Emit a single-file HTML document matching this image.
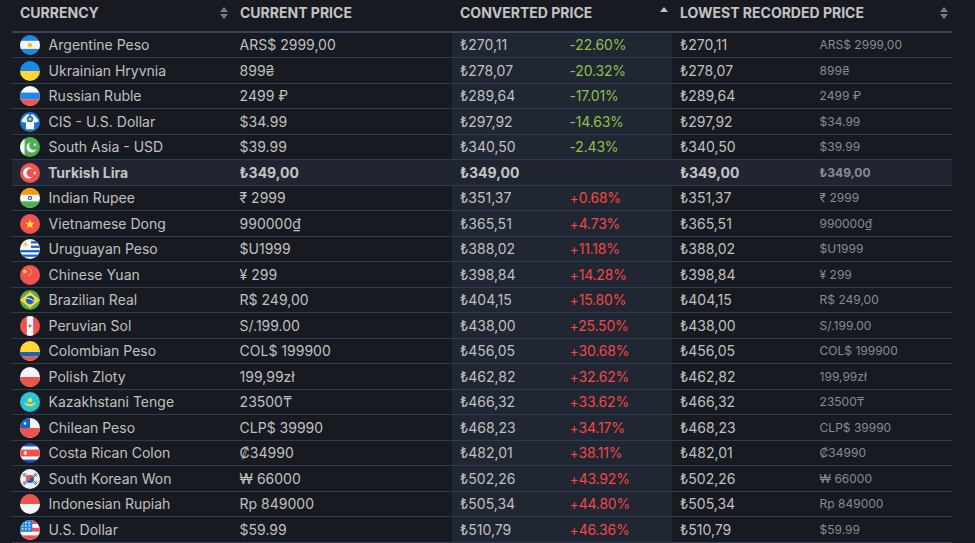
<!DOCTYPE html><html><head><meta charset="utf-8"><title>Steam Prices</title><style>
html,body{margin:0;padding:0}
body{width:975px;height:543px;overflow:hidden;position:relative;background:#171a21;font-family:Inter,"Liberation Sans",sans-serif;color:#c0c0c0;}
.a{position:absolute}
.t{position:absolute;white-space:pre;line-height:20px;font-size:14px}
.h{font-weight:700;color:#c3c3c3}
.s{font-size:12px;color:#878c94}
.g{color:#8bc34a}
.r{color:#f44747}
.b{font-weight:700;color:#c4c4c4}
.bd{position:absolute;left:12px;width:940px;height:1px;background:#2f3c51}
svg.f{position:absolute;width:20px;height:20px}

</style></head><body>
<div class="t h" style="left:20px;top:3px">CURRENCY</div>
<div class="t h" style="left:240px;top:3px">CURRENT PRICE</div>
<div class="t h" style="left:460px;top:3px">CONVERTED PRICE</div>
<div class="t h" style="left:680px;top:3px">LOWEST RECORDED PRICE</div>
<svg class="a" style="left:220px;top:7px" width="8" height="12" viewBox="0 0 8 12"><path d="M4 0 L8 5 L0 5 Z" fill="#7d7d7d"/><path d="M0 7 L8 7 L4 12 Z" fill="#7d7d7d"/></svg>
<svg class="a" style="left:940px;top:7px" width="8" height="12" viewBox="0 0 8 12"><path d="M4 0 L8 5 L0 5 Z" fill="#7d7d7d"/><path d="M0 7 L8 7 L4 12 Z" fill="#7d7d7d"/></svg>
<svg class="a" style="left:660px;top:7px" width="8" height="6" viewBox="0 0 8 6"><path d="M4 0 L8 5 L0 5 Z" fill="#c0c0c0"/></svg>
<div class="a" style="left:12px;top:31px;width:940px;height:2px;background:#35455d"></div>
<div class="a" style="left:452px;top:33px;width:220px;height:510px;background:#202632"></div>
<div class="bd" style="top:57px"></div>
<svg class="f" style="left:20px;top:35px" viewBox="0 0 20 20"><defs><clipPath id="c0"><circle cx="10" cy="10" r="10"/></clipPath></defs><g clip-path="url(#c0)"><rect width="20" height="20" fill="#1e88e5"/><rect y="5.8" width="20" height="8.1" fill="#f5f6fa"/><polygon points="10.00,6.90 11.28,8.24 12.95,9.04 12.06,10.67 11.82,12.51 10.00,12.17 8.18,12.51 7.94,10.67 7.05,9.04 8.72,8.24" fill="#fde3a0"/><circle cx="10" cy="10" r="2.2" fill="#fbc02d"/></g></svg>
<div class="t" style="left:48.6px;top:35px">Argentine Peso</div>
<div class="t" style="left:239.6px;top:35px">ARS$ 2999,00</div>
<div class="t" style="left:460px;top:35px">₺270,11</div>
<div class="t g" style="left:569.6px;top:35px;letter-spacing:-0.2px">-22.60%</div>
<div class="t" style="left:680px;top:35px">₺270,11</div>
<div class="t s" style="left:819.6px;top:35px;">ARS$ 2999,00</div>
<div class="bd" style="top:83px"></div>
<svg class="f" style="left:20px;top:61px" viewBox="0 0 20 20"><defs><clipPath id="c1"><circle cx="10" cy="10" r="10"/></clipPath></defs><g clip-path="url(#c1)"><rect width="20" height="10" fill="#1e88e5"/><rect y="10" width="20" height="10" fill="#fdd835"/></g></svg>
<div class="t" style="left:48.6px;top:61px">Ukrainian Hryvnia</div>
<div class="t" style="left:239.6px;top:61px">899₴</div>
<div class="t" style="left:460px;top:61px">₺278,07</div>
<div class="t g" style="left:569.6px;top:61px;letter-spacing:-0.2px">-20.32%</div>
<div class="t" style="left:680px;top:61px">₺278,07</div>
<div class="t s" style="left:819.6px;top:61px;">899₴</div>
<div class="bd" style="top:108px"></div>
<svg class="f" style="left:20px;top:86px" viewBox="0 0 20 20"><defs><clipPath id="c2"><circle cx="10" cy="10" r="10"/></clipPath></defs><g clip-path="url(#c2)"><rect width="20" height="20" fill="#f5f6fa"/><rect y="6.6" width="20" height="6.8" fill="#1e88e5"/><rect y="13.4" width="20" height="6.6" fill="#ef5350"/></g></svg>
<div class="t" style="left:48.6px;top:86px">Russian Ruble</div>
<div class="t" style="left:239.6px;top:86px">2499 ₽</div>
<div class="t" style="left:460px;top:86px">₺289,64</div>
<div class="t g" style="left:569.6px;top:86px;letter-spacing:-0.2px">-17.01%</div>
<div class="t" style="left:680px;top:86px">₺289,64</div>
<div class="t s" style="left:819.6px;top:86px;">2499 ₽</div>
<div class="bd" style="top:134px"></div>
<svg class="f" style="left:20px;top:112px" viewBox="0 0 20 20"><defs><clipPath id="c3"><circle cx="10" cy="10" r="10"/></clipPath></defs><g clip-path="url(#c3)"><rect width="20" height="20" fill="#1976d2"/><path d="M1.6 9.8 L1.8 7.4 L3.1 6.7 L3.5 5.3 L4.8 4.7 L5.3 3.4 L6.6 2.9 L7.4 2.2 L9 2.4 L11 2.4 L12.6 2.2 L13.4 2.9 L14.7 3.4 L15.2 4.7 L16.5 5.3 L16.9 6.7 L18.2 7.4 L18.4 9.8 L14 10.8 L14 17.3 L6 17.3 L6 10.8 Z" fill="#f5f6fa"/><rect x="9.2" y="0" width="1.6" height="6" fill="#1976d2"/><circle cx="10" cy="7" r="3.2" fill="#1976d2"/><circle cx="10" cy="7" r="1.6" fill="#fdd000"/></g></svg>
<div class="t" style="left:48.6px;top:112px">CIS - U.S. Dollar</div>
<div class="t" style="left:239.6px;top:112px">$34.99</div>
<div class="t" style="left:460px;top:112px">₺297,92</div>
<div class="t g" style="left:569.6px;top:112px;letter-spacing:-0.2px">-14.63%</div>
<div class="t" style="left:680px;top:112px">₺297,92</div>
<div class="t s" style="left:819.6px;top:112px;">$34.99</div>
<div class="bd" style="top:159px"></div>
<svg class="f" style="left:20px;top:137px" viewBox="0 0 20 20"><defs><clipPath id="c4"><circle cx="10" cy="10" r="10"/></clipPath></defs><g clip-path="url(#c4)"><rect width="20" height="20" fill="#4caf50"/><rect width="4.6" height="20" fill="#f5f6fa"/><path d="M10.50 5.52 A5.0 5.0 0 1 0 16.41 11.77 A4.3 4.3 0 1 1 10.50 5.52 Z" fill="#f5f6fa"/><polygon points="16.08,6.08 15.63,7.46 16.80,8.32 15.35,8.32 14.90,9.70 14.45,8.32 13.00,8.32 14.17,7.46 13.72,6.08 14.90,6.94" fill="#f5f6fa"/></g></svg>
<div class="t" style="left:48.6px;top:137px">South Asia - USD</div>
<div class="t" style="left:239.6px;top:137px">$39.99</div>
<div class="t" style="left:460px;top:137px">₺340,50</div>
<div class="t g" style="left:569.6px;top:137px;letter-spacing:-0.2px">-2.43%</div>
<div class="t" style="left:680px;top:137px">₺340,50</div>
<div class="t s" style="left:819.6px;top:137px;">$39.99</div>
<div class="a" style="left:12px;top:160px;width:940px;height:25px;background:#202531"></div>
<div class="bd" style="top:185px"></div>
<svg class="f" style="left:20px;top:163px" viewBox="0 0 20 20"><defs><clipPath id="c5"><circle cx="10" cy="10" r="10"/></clipPath></defs><g clip-path="url(#c5)"><rect width="20" height="20" fill="#ef5350"/><path d="M12.72 6.01 A5.6 5.6 0 1 0 12.72 13.79 A4.3 4.3 0 1 1 12.72 6.01 Z" fill="#f5f6fa"/><polygon points="12.60,9.90 14.05,9.43 14.05,7.90 14.95,9.14 16.40,8.67 15.50,9.90 16.40,11.13 14.95,10.66 14.05,11.90 14.05,10.37" fill="#f5f6fa"/></g></svg>
<div class="t b" style="left:48px;top:163px">Turkish Lira</div>
<div class="t b" style="left:239.6px;top:163px">₺349,00</div>
<div class="t b" style="left:460px;top:163px">₺349,00</div>
<div class="t b" style="left:680px;top:163px">₺349,00</div>
<div class="t s" style="left:819.6px;top:163px;font-weight:700;">₺349,00</div>
<div class="bd" style="top:210px"></div>
<svg class="f" style="left:20px;top:188px" viewBox="0 0 20 20"><defs><clipPath id="c6"><circle cx="10" cy="10" r="10"/></clipPath></defs><g clip-path="url(#c6)"><rect width="20" height="20" fill="#f5f6fa"/><rect width="20" height="6.8" fill="#ff9800"/><rect y="13.4" width="20" height="6.6" fill="#4caf50"/><circle cx="10" cy="10" r="1.6" fill="none" stroke="#1565c0" stroke-width="1.1"/></g></svg>
<div class="t" style="left:48.6px;top:188px">Indian Rupee</div>
<div class="t" style="left:239.6px;top:188px">₹ 2999</div>
<div class="t" style="left:460px;top:188px">₺351,37</div>
<div class="t r" style="left:569.6px;top:188px;letter-spacing:-0.2px">+0.68%</div>
<div class="t" style="left:680px;top:188px">₺351,37</div>
<div class="t s" style="left:819.6px;top:188px;">₹ 2999</div>
<div class="bd" style="top:236px"></div>
<svg class="f" style="left:20px;top:214px" viewBox="0 0 20 20"><defs><clipPath id="c7"><circle cx="10" cy="10" r="10"/></clipPath></defs><g clip-path="url(#c7)"><rect width="20" height="20" fill="#ef5350"/><polygon points="10.00,5.20 11.17,8.79 14.95,8.79 11.89,11.01 13.06,14.61 10.00,12.39 6.94,14.61 8.11,11.01 5.05,8.79 8.83,8.79" fill="#fdd835"/></g></svg>
<div class="t" style="left:48.6px;top:214px">Vietnamese Dong</div>
<div class="t" style="left:239.6px;top:214px">990000₫</div>
<div class="t" style="left:460px;top:214px">₺365,51</div>
<div class="t r" style="left:569.6px;top:214px;letter-spacing:-0.2px">+4.73%</div>
<div class="t" style="left:680px;top:214px">₺365,51</div>
<div class="t s" style="left:819.6px;top:214px;">990000₫</div>
<div class="bd" style="top:261px"></div>
<svg class="f" style="left:20px;top:239px" viewBox="0 0 20 20"><defs><clipPath id="c8"><circle cx="10" cy="10" r="10"/></clipPath></defs><g clip-path="url(#c8)"><rect width="20" height="20" fill="#f5f6fa"/><rect x="11" y="2.2" width="9" height="2.2" fill="#1565c0"/><rect x="11" y="6.7" width="9" height="2.2" fill="#1565c0"/><rect y="11.1" width="20" height="2.2" fill="#1565c0"/><rect y="15.6" width="20" height="2.2" fill="#1565c0"/><path d="M5.3 2.2 L6.2 4.4 L8.4 5.3 L6.2 6.2 L5.3 8.4 L4.4 6.2 L2.2 5.3 L4.4 4.4 Z" fill="#fbc02d"/></g></svg>
<div class="t" style="left:48.6px;top:239px">Uruguayan Peso</div>
<div class="t" style="left:239.6px;top:239px">$U1999</div>
<div class="t" style="left:460px;top:239px">₺388,02</div>
<div class="t r" style="left:569.6px;top:239px;letter-spacing:-0.2px">+11.18%</div>
<div class="t" style="left:680px;top:239px">₺388,02</div>
<div class="t s" style="left:819.6px;top:239px;">$U1999</div>
<div class="bd" style="top:287px"></div>
<svg class="f" style="left:20px;top:265px" viewBox="0 0 20 20"><defs><clipPath id="c9"><circle cx="10" cy="10" r="10"/></clipPath></defs><g clip-path="url(#c9)"><rect width="20" height="20" fill="#ef5350"/><polygon points="4.80,3.80 5.45,5.80 7.56,5.80 5.85,7.04 6.50,9.05 4.80,7.81 3.10,9.05 3.75,7.04 2.04,5.80 4.15,5.80" fill="#fdd835"/><circle cx="9.3" cy="3.4" r="0.75" fill="#fdd835"/><circle cx="11.3" cy="5.6" r="0.75" fill="#fdd835"/><circle cx="11.3" cy="8.5" r="0.75" fill="#fdd835"/><circle cx="9.3" cy="10.6" r="0.75" fill="#fdd835"/></g></svg>
<div class="t" style="left:48.6px;top:265px">Chinese Yuan</div>
<div class="t" style="left:239.6px;top:265px">¥ 299</div>
<div class="t" style="left:460px;top:265px">₺398,84</div>
<div class="t r" style="left:569.6px;top:265px;letter-spacing:-0.2px">+14.28%</div>
<div class="t" style="left:680px;top:265px">₺398,84</div>
<div class="t s" style="left:819.6px;top:265px;">¥ 299</div>
<div class="bd" style="top:312px"></div>
<svg class="f" style="left:20px;top:290px" viewBox="0 0 20 20"><defs><clipPath id="c10"><circle cx="10" cy="10" r="10"/></clipPath></defs><g clip-path="url(#c10)"><rect width="20" height="20" fill="#4caf50"/><polygon points="10,1.8 20,10 10,18.2 0,10" fill="#fdd835"/><circle cx="10" cy="10" r="4.2" fill="#1565c0"/><path d="M6 8.2 C8.5 8 11.5 9 13.9 11.2" stroke="#f5f6fa" stroke-width="1" fill="none"/></g></svg>
<div class="t" style="left:48.6px;top:290px">Brazilian Real</div>
<div class="t" style="left:239.6px;top:290px">R$ 249,00</div>
<div class="t" style="left:460px;top:290px">₺404,15</div>
<div class="t r" style="left:569.6px;top:290px;letter-spacing:-0.2px">+15.80%</div>
<div class="t" style="left:680px;top:290px">₺404,15</div>
<div class="t s" style="left:819.6px;top:290px;">R$ 249,00</div>
<div class="bd" style="top:338px"></div>
<svg class="f" style="left:20px;top:316px" viewBox="0 0 20 20"><defs><clipPath id="c11"><circle cx="10" cy="10" r="10"/></clipPath></defs><g clip-path="url(#c11)"><rect width="20" height="20" fill="#ef5350"/><rect x="6.8" width="6.4" height="20" fill="#f5f6fa"/><path d="M8.3 8.8 C8.3 10.8 9.5 11.4 10 11.4 C10.5 11.4 11.7 10.8 11.7 8.8 L10.8 9.6 L9.2 9.6 Z" fill="#43a047"/><circle cx="9.6" cy="8.9" r="0.6" fill="#1e88e5"/><circle cx="10.3" cy="9.7" r="0.6" fill="#ef5350"/></g></svg>
<div class="t" style="left:48.6px;top:316px">Peruvian Sol</div>
<div class="t" style="left:239.6px;top:316px">S/.199.00</div>
<div class="t" style="left:460px;top:316px">₺438,00</div>
<div class="t r" style="left:569.6px;top:316px;letter-spacing:-0.2px">+25.50%</div>
<div class="t" style="left:680px;top:316px">₺438,00</div>
<div class="t s" style="left:819.6px;top:316px;">S/.199.00</div>
<div class="bd" style="top:363px"></div>
<svg class="f" style="left:20px;top:341px" viewBox="0 0 20 20"><defs><clipPath id="c12"><circle cx="10" cy="10" r="10"/></clipPath></defs><g clip-path="url(#c12)"><rect width="20" height="20" fill="#fdd835"/><rect y="11" width="20" height="4.5" fill="#1565c0"/><rect y="15.5" width="20" height="4.5" fill="#ef5350"/></g></svg>
<div class="t" style="left:48.6px;top:341px">Colombian Peso</div>
<div class="t" style="left:239.6px;top:341px">COL$ 199900</div>
<div class="t" style="left:460px;top:341px">₺456,05</div>
<div class="t r" style="left:569.6px;top:341px;letter-spacing:-0.2px">+30.68%</div>
<div class="t" style="left:680px;top:341px">₺456,05</div>
<div class="t s" style="left:819.6px;top:341px;">COL$ 199900</div>
<div class="bd" style="top:389px"></div>
<svg class="f" style="left:20px;top:367px" viewBox="0 0 20 20"><defs><clipPath id="c13"><circle cx="10" cy="10" r="10"/></clipPath></defs><g clip-path="url(#c13)"><rect width="20" height="20" fill="#f5f6fa"/><rect y="10" width="20" height="10" fill="#ef5350"/></g></svg>
<div class="t" style="left:48.6px;top:367px">Polish Zloty</div>
<div class="t" style="left:239.6px;top:367px">199,99zł</div>
<div class="t" style="left:460px;top:367px">₺462,82</div>
<div class="t r" style="left:569.6px;top:367px;letter-spacing:-0.2px">+32.62%</div>
<div class="t" style="left:680px;top:367px">₺462,82</div>
<div class="t s" style="left:819.6px;top:367px;">199,99zł</div>
<div class="bd" style="top:414px"></div>
<svg class="f" style="left:20px;top:392px" viewBox="0 0 20 20"><defs><clipPath id="c14"><circle cx="10" cy="10" r="10"/></clipPath></defs><g clip-path="url(#c14)"><rect width="20" height="20" fill="#26c6da"/><circle cx="10" cy="8.2" r="2.3" fill="#fdd835"/><path d="M4.2 10.2 C6 10.4 7.5 12.1 10 12.1 C12.5 12.1 14 10.4 15.8 10.2 C15 12.6 13 14.3 10 14.3 C7 14.3 5 12.6 4.2 10.2 Z" fill="#fdd835"/></g></svg>
<div class="t" style="left:48.6px;top:392px">Kazakhstani Tenge</div>
<div class="t" style="left:239.6px;top:392px">23500₸</div>
<div class="t" style="left:460px;top:392px">₺466,32</div>
<div class="t r" style="left:569.6px;top:392px;letter-spacing:-0.2px">+33.62%</div>
<div class="t" style="left:680px;top:392px">₺466,32</div>
<div class="t s" style="left:819.6px;top:392px;">23500₸</div>
<div class="bd" style="top:440px"></div>
<svg class="f" style="left:20px;top:418px" viewBox="0 0 20 20"><defs><clipPath id="c15"><circle cx="10" cy="10" r="10"/></clipPath></defs><g clip-path="url(#c15)"><rect width="20" height="20" fill="#f5f6fa"/><rect width="10" height="10" fill="#1565c0"/><rect y="10" width="20" height="10" fill="#ef5350"/><polygon points="5.00,3.20 5.49,4.72 7.09,4.72 5.80,5.66 6.29,7.18 5.00,6.24 3.71,7.18 4.20,5.66 2.91,4.72 4.51,4.72" fill="#f5f6fa"/></g></svg>
<div class="t" style="left:48.6px;top:418px">Chilean Peso</div>
<div class="t" style="left:239.6px;top:418px">CLP$ 39990</div>
<div class="t" style="left:460px;top:418px">₺468,23</div>
<div class="t r" style="left:569.6px;top:418px;letter-spacing:-0.2px">+34.17%</div>
<div class="t" style="left:680px;top:418px">₺468,23</div>
<div class="t s" style="left:819.6px;top:418px;">CLP$ 39990</div>
<div class="bd" style="top:465px"></div>
<svg class="f" style="left:20px;top:443px" viewBox="0 0 20 20"><defs><clipPath id="c16"><circle cx="10" cy="10" r="10"/></clipPath></defs><g clip-path="url(#c16)"><rect width="20" height="20" fill="#1e4fb4"/><rect y="3.4" width="20" height="13.2" fill="#f5f6fa"/><rect y="6.6" width="20" height="6.8" fill="#ef5350"/><ellipse cx="5.3" cy="10" rx="1.6" ry="1.9" fill="#f5f6fa"/></g></svg>
<div class="t" style="left:48.6px;top:443px">Costa Rican Colon</div>
<div class="t" style="left:239.6px;top:443px">₡34990</div>
<div class="t" style="left:460px;top:443px">₺482,01</div>
<div class="t r" style="left:569.6px;top:443px;letter-spacing:-0.2px">+38.11%</div>
<div class="t" style="left:680px;top:443px">₺482,01</div>
<div class="t s" style="left:819.6px;top:443px;">₡34990</div>
<div class="bd" style="top:491px"></div>
<svg class="f" style="left:20px;top:469px" viewBox="0 0 20 20"><defs><clipPath id="c17"><circle cx="10" cy="10" r="10"/></clipPath></defs><g clip-path="url(#c17)"><rect width="20" height="20" fill="#eef1f7"/><circle cx="10" cy="10" r="4.1" fill="#1565c0"/><path d="M5.9 10 A4.1 4.1 0 0 1 14.1 10 A2.05 2.05 0 0 0 10 10 A2.05 2.05 0 0 1 5.9 10 Z" fill="#ef5350"/><g stroke="#3a3a3a" stroke-width="0.75"><path d="M2.6 6.6 L4.8 4 M3.6 7.4 L5.8 4.8 M4.6 8.2 L6.8 5.6"/><path d="M17.4 6.6 L15.2 4 M16.4 7.4 L14.2 4.8 M15.4 8.2 L13.2 5.6"/><path d="M2.6 13.4 L4.8 16 M3.6 12.6 L5.8 15.2 M4.6 11.8 L6.8 14.4"/><path d="M17.4 13.4 L15.2 16 M16.4 12.6 L14.2 15.2 M15.4 11.8 L13.2 14.4"/></g></g></svg>
<div class="t" style="left:48.6px;top:469px">South Korean Won</div>
<div class="t" style="left:239.6px;top:469px">₩ 66000</div>
<div class="t" style="left:460px;top:469px">₺502,26</div>
<div class="t r" style="left:569.6px;top:469px;letter-spacing:-0.2px">+43.92%</div>
<div class="t" style="left:680px;top:469px">₺502,26</div>
<div class="t s" style="left:819.6px;top:469px;">₩ 66000</div>
<div class="bd" style="top:516px"></div>
<svg class="f" style="left:20px;top:494px" viewBox="0 0 20 20"><defs><clipPath id="c18"><circle cx="10" cy="10" r="10"/></clipPath></defs><g clip-path="url(#c18)"><rect width="20" height="10" fill="#ef5350"/><rect y="10" width="20" height="10" fill="#f5f6fa"/></g></svg>
<div class="t" style="left:48.6px;top:494px">Indonesian Rupiah</div>
<div class="t" style="left:239.6px;top:494px">Rp 849000</div>
<div class="t" style="left:460px;top:494px">₺505,34</div>
<div class="t r" style="left:569.6px;top:494px;letter-spacing:-0.2px">+44.80%</div>
<div class="t" style="left:680px;top:494px">₺505,34</div>
<div class="t s" style="left:819.6px;top:494px;">Rp 849000</div>
<div class="bd" style="top:542px"></div>
<svg class="f" style="left:20px;top:520px" viewBox="0 0 20 20"><defs><clipPath id="c19"><circle cx="10" cy="10" r="10"/></clipPath></defs><g clip-path="url(#c19)"><rect width="20" height="20" fill="#f5f6fa"/><rect width="20" height="4" fill="#ef5350"/><rect y="7.8" width="20" height="3.8" fill="#ef5350"/><rect y="15.4" width="20" height="4.6" fill="#ef5350"/><rect width="12.3" height="11.6" fill="#1e88e5"/><polygon points="2.70,1.50 3.04,2.33 3.94,2.40 3.26,2.98 3.46,3.85 2.70,3.38 1.94,3.85 2.14,2.98 1.46,2.40 2.36,2.33" fill="#f5f6fa"/><polygon points="2.70,4.60 3.04,5.43 3.94,5.50 3.26,6.08 3.46,6.95 2.70,6.49 1.94,6.95 2.14,6.08 1.46,5.50 2.36,5.43" fill="#f5f6fa"/><polygon points="2.70,7.70 3.04,8.53 3.94,8.60 3.26,9.18 3.46,10.05 2.70,9.59 1.94,10.05 2.14,9.18 1.46,8.60 2.36,8.53" fill="#f5f6fa"/><polygon points="5.90,1.50 6.24,2.33 7.14,2.40 6.46,2.98 6.66,3.85 5.90,3.38 5.14,3.85 5.34,2.98 4.66,2.40 5.56,2.33" fill="#f5f6fa"/><polygon points="5.90,4.60 6.24,5.43 7.14,5.50 6.46,6.08 6.66,6.95 5.90,6.49 5.14,6.95 5.34,6.08 4.66,5.50 5.56,5.43" fill="#f5f6fa"/><polygon points="5.90,7.70 6.24,8.53 7.14,8.60 6.46,9.18 6.66,10.05 5.90,9.59 5.14,10.05 5.34,9.18 4.66,8.60 5.56,8.53" fill="#f5f6fa"/><polygon points="9.20,1.50 9.54,2.33 10.44,2.40 9.76,2.98 9.96,3.85 9.20,3.38 8.44,3.85 8.64,2.98 7.96,2.40 8.86,2.33" fill="#f5f6fa"/><polygon points="9.20,4.60 9.54,5.43 10.44,5.50 9.76,6.08 9.96,6.95 9.20,6.49 8.44,6.95 8.64,6.08 7.96,5.50 8.86,5.43" fill="#f5f6fa"/><polygon points="9.20,7.70 9.54,8.53 10.44,8.60 9.76,9.18 9.96,10.05 9.20,9.59 8.44,10.05 8.64,9.18 7.96,8.60 8.86,8.53" fill="#f5f6fa"/></g></svg>
<div class="t" style="left:48.6px;top:520px">U.S. Dollar</div>
<div class="t" style="left:239.6px;top:520px">$59.99</div>
<div class="t" style="left:460px;top:520px">₺510,79</div>
<div class="t r" style="left:569.6px;top:520px;letter-spacing:-0.2px">+46.36%</div>
<div class="t" style="left:680px;top:520px">₺510,79</div>
<div class="t s" style="left:819.6px;top:520px;">$59.99</div>
</body></html>
